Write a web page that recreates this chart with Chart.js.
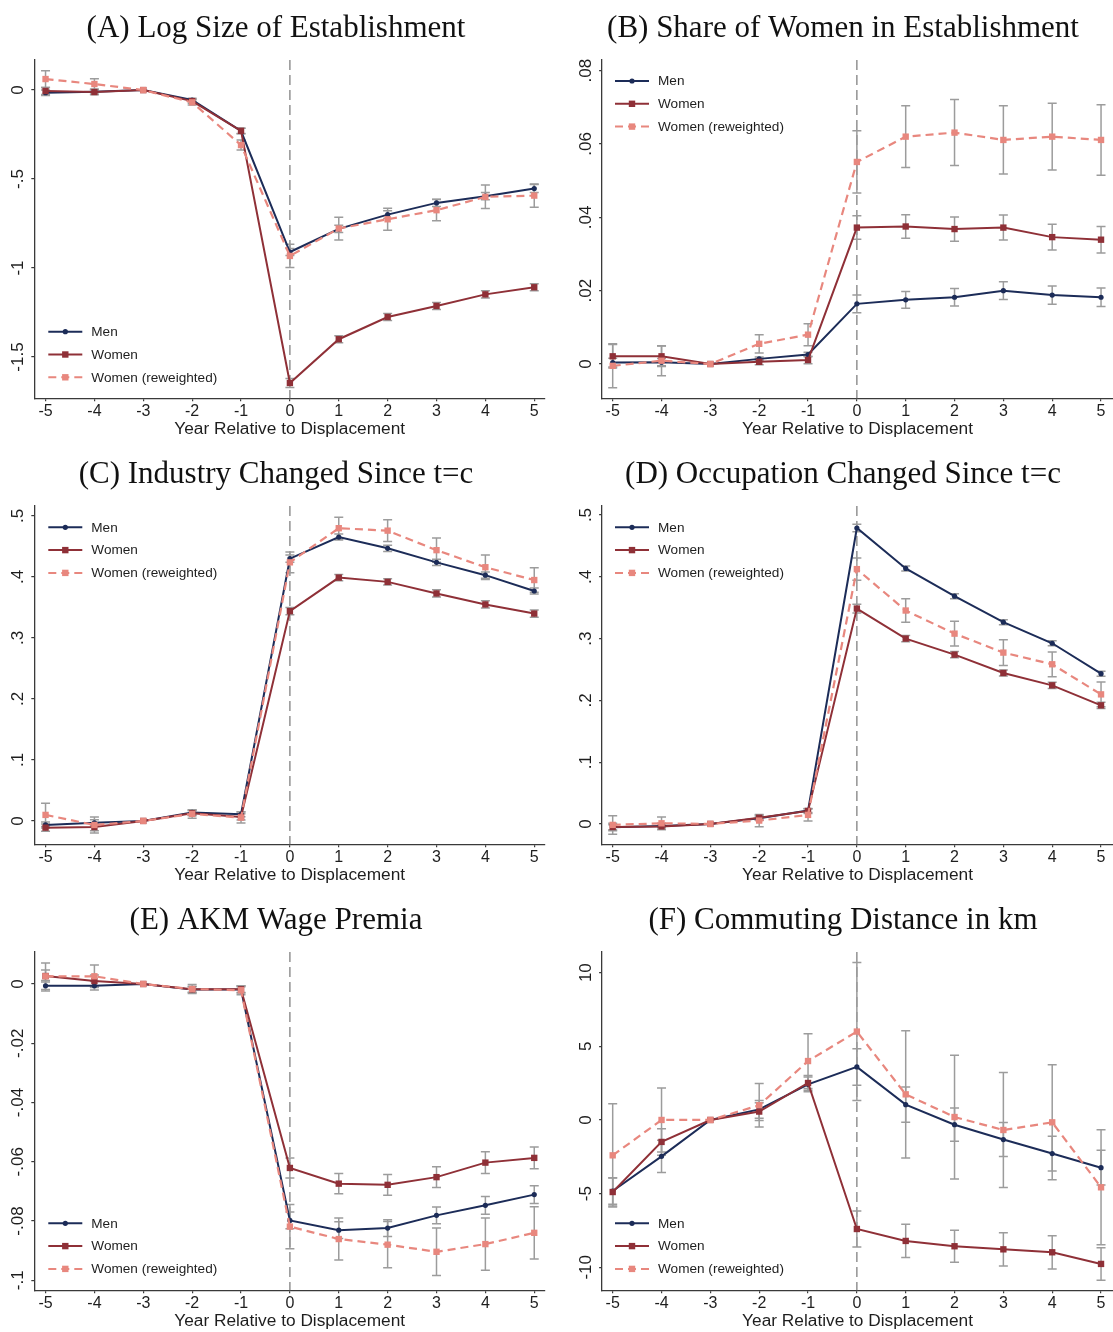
<!DOCTYPE html>
<html>
<head>
<meta charset="utf-8">
<script src="https://cdn.jsdelivr.net/npm/chart.js@4.4.1/dist/chart.umd.min.js"></script>
<style>
  html, body { margin: 0; padding: 0; background: #fff; }
  #wrap { position: relative; width: 1113px; height: 1332px; overflow: hidden; }
  canvas { position: absolute; }
</style>
</head>
<body>
<div id="wrap">
  <canvas id="pA" width="556" height="446" style="left:0px;top:0px"></canvas>
  <canvas id="pB" width="557" height="446" style="left:556px;top:0px"></canvas>
  <canvas id="pC" width="556" height="446" style="left:0px;top:446px"></canvas>
  <canvas id="pD" width="557" height="446" style="left:556px;top:446px"></canvas>
  <canvas id="pE" width="556" height="440" style="left:0px;top:892px"></canvas>
  <canvas id="pF" width="557" height="440" style="left:556px;top:892px"></canvas>
</div>
<script>
// x axis: years relative to displacement
const years = [-5, -4, -3, -2, -1, 0, 1, 2, 3, 4, 5];
const seriesNames = ['Men', 'Women', 'Women (reweighted)'];
const xTitle = 'Year Relative to Displacement';

// (A) Log Size of Establishment
const menA   = [-0.015, -0.010, 0, -0.056, -0.230, -0.910, -0.780, -0.700, -0.634, -0.596, -0.553];
const womenA = [-0.005, -0.011, 0, -0.062, -0.229, -1.646, -1.400, -1.275, -1.213, -1.148, -1.108];
const rwA    = [0.062, 0.034, 0, -0.069, -0.309, -0.932, -0.778, -0.726, -0.675, -0.600, -0.593];
const ciMenA   = [0.015, 0.012, 0, 0.010, 0.015, 0.020, 0.020, 0.022, 0.020, 0.020, 0.022];
const ciWomenA = [0.020, 0.015, 0, 0.012, 0.015, 0.025, 0.020, 0.020, 0.020, 0.020, 0.020];
const ciRwA    = [0.047, 0.030, 0, 0.015, 0.028, 0.065, 0.064, 0.062, 0.060, 0.066, 0.065];
const yTicksA = [0, -0.5, -1, -1.5];
const yLabelsA = ['0', '-.5', '-1', '-1.5'];

// (B) Share of Women in Establishment
const menB   = [0.0004, 0.0005, 0, 0.0014, 0.0026, 0.0164, 0.0175, 0.0182, 0.0200, 0.0188, 0.0182];
const womenB = [0.0021, 0.0021, 0, 0.0006, 0.0011, 0.0372, 0.0375, 0.0368, 0.0372, 0.0346, 0.0339];
const rwB    = [-0.0005, 0.0009, 0, 0.0055, 0.0080, 0.0551, 0.0620, 0.0631, 0.0611, 0.0620, 0.0611];
const ciMenB   = [0.0012, 0.0010, 0, 0.0005, 0.0006, 0.0024, 0.0023, 0.0024, 0.0024, 0.0025, 0.0025];
const ciWomenB = [0.0032, 0.0028, 0, 0.0008, 0.0010, 0.0032, 0.0032, 0.0033, 0.0034, 0.0035, 0.0036];
const ciRwB    = [0.0060, 0.0041, 0, 0.0025, 0.0030, 0.0085, 0.0084, 0.0090, 0.0093, 0.0091, 0.0096];
const yTicksB = [0, 0.02, 0.04, 0.06, 0.08];
const yLabelsB = ['0', '.02', '.04', '.06', '.08'];

// (C) Industry Changed Since t=c
const menC   = [-0.0066, -0.003, 0, 0.014, 0.011, 0.430, 0.4655, 0.447, 0.424, 0.403, 0.377];
const womenC = [-0.011, -0.010, 0, 0.0126, 0.0066, 0.344, 0.399, 0.392, 0.373, 0.355, 0.340];
const rwC    = [0.0099, -0.0066, 0, 0.0115, 0.0055, 0.424, 0.480, 0.476, 0.444, 0.416, 0.395];
const ciMenC   = [0.005, 0.005, 0, 0.004, 0.004, 0.006, 0.005, 0.005, 0.005, 0.005, 0.005];
const ciWomenC = [0.006, 0.006, 0, 0.004, 0.005, 0.006, 0.005, 0.005, 0.006, 0.006, 0.006];
const ciRwC    = [0.019, 0.013, 0, 0.007, 0.009, 0.017, 0.018, 0.018, 0.020, 0.020, 0.020];
const yTicksC = [0, 0.1, 0.2, 0.3, 0.4, 0.5];
const yLabelsC = ['0', '.1', '.2', '.3', '.4', '.5'];

// (D) Occupation Changed Since t=c
const menD   = [-0.0054, -0.0032, 0, 0.0092, 0.0216, 0.479, 0.4135, 0.3686, 0.3265, 0.2924, 0.2432];
const womenD = [-0.005, -0.004, 0, 0.010, 0.021, 0.3486, 0.300, 0.274, 0.2443, 0.2243, 0.1919];
const rwD    = [-0.0016, 0.001, 0, 0.0054, 0.0146, 0.4124, 0.3454, 0.308, 0.2773, 0.2584, 0.2097];
const ciMenD   = [0.004, 0.003, 0, 0.003, 0.003, 0.006, 0.004, 0.004, 0.004, 0.004, 0.004];
const ciWomenD = [0.006, 0.005, 0, 0.004, 0.004, 0.007, 0.005, 0.005, 0.005, 0.005, 0.005];
const ciRwD    = [0.015, 0.010, 0, 0.010, 0.010, 0.018, 0.019, 0.020, 0.021, 0.020, 0.020];
const yTicksD = [0, 0.1, 0.2, 0.3, 0.4, 0.5];
const yLabelsD = ['0', '.1', '.2', '.3', '.4', '.5'];

// (E) AKM Wage Premia
const menE   = [-0.0006, -0.0006, 0, -0.0019, -0.0019, -0.0798, -0.0831, -0.0824, -0.0781, -0.0747, -0.0711];
const womenE = [0.0027, 0.0010, 0, -0.0018, -0.0018, -0.0621, -0.0674, -0.0678, -0.0652, -0.0603, -0.0587];
const rwE    = [0.0026, 0.0026, 0, -0.0017, -0.0021, -0.0819, -0.0861, -0.0880, -0.0904, -0.0878, -0.0840];
const ciMenE   = [0.0018, 0.0014, 0, 0.0010, 0.0010, 0.0028, 0.0028, 0.0028, 0.0028, 0.0030, 0.0030];
const ciWomenE = [0.0020, 0.0020, 0, 0.0010, 0.0012, 0.0034, 0.0034, 0.0035, 0.0035, 0.0037, 0.0037];
const ciRwE    = [0.0045, 0.0038, 0, 0.0015, 0.0015, 0.0075, 0.0071, 0.0078, 0.0080, 0.0088, 0.0088];
const yTicksE = [0, -0.02, -0.04, -0.06, -0.08, -0.1];
const yLabelsE = ['0', '-.02', '-.04', '-.06', '-.08', '-.1'];

// (F) Commuting Distance in km
const menF   = [-4.82, -2.47, 0, 0.72, 2.42, 3.60, 1.04, -0.32, -1.33, -2.28, -3.24];
const womenF = [-4.89, -1.49, 0, 0.57, 2.51, -7.40, -8.21, -8.57, -8.78, -8.98, -9.77];
const rwF    = [-2.40, 0.00, 0, 1.00, 4.00, 6.00, 1.74, 0.20, -0.68, -0.16, -4.57];
const ciMenF   = [0.90, 1.10, 0, 0.60, 0.50, 1.24, 1.20, 1.13, 1.15, 1.18, 1.18];
const ciWomenF = [0.95, 0.90, 0, 0.60, 0.50, 1.22, 1.13, 1.08, 1.13, 1.13, 1.10];
const ciRwF    = [3.50, 2.17, 0, 1.47, 1.86, 4.68, 4.32, 4.20, 3.90, 3.90, 3.90];
const yTicksF = [-10, -5, 0, 5, 10];
const yLabelsF = ['-10', '-5', '0', '5', '10'];

// 样式
const NAVY = '#1c2c58';
const MAROON = '#8f3037';
const SALMON = '#e8877e';
const GREY_CI = '#9c9c9c';
const AXIS = '#3a3a3a';
const TXT = '#1e1e1e';
const SANS = '"Liberation Sans", Arial, sans-serif';

// 左右两列的布局
const colLeft  = { padL: 7,  padR: 11, yAxisW: 27.3, xMin: -5.23,  xMax: 5.22,  legX: 48.3 };
const colRight = { padL: 17, padR: 0,  yAxisW: 29.1, xMin: -5.217, xMax: 5.245, legX: 59 };

// 画零线、误差线、旋转的y轴标签和图例
const panelDeco = {
  id: 'panelDeco',
  beforeDatasetsDraw(chart, args, o) {
    const ctx = chart.ctx, a = chart.chartArea;
    const xs = chart.scales.x, ys = chart.scales.y;
    ctx.save();
    // dashed line at t = 0
    const x0 = xs.getPixelForValue(0);
    ctx.strokeStyle = '#8a8a8a';
    ctx.lineWidth = 1.4;
    ctx.setLineDash([10, 5]);
    ctx.beginPath();
    ctx.moveTo(x0, a.top);
    ctx.lineTo(x0, a.bottom);
    ctx.stroke();
    ctx.setLineDash([]);
    // confidence intervals
    ctx.strokeStyle = GREY_CI;
    ctx.lineWidth = 1.5;
    chart.data.datasets.forEach(ds => {
      ds.ci.forEach((h, i) => {
        if (!h) return;
        const px = xs.getPixelForValue(years[i]);
        const yHi = ys.getPixelForValue(ds.data[i].y + h);
        const yLo = ys.getPixelForValue(ds.data[i].y - h);
        ctx.beginPath();
        ctx.moveTo(px, yHi); ctx.lineTo(px, yLo);
        ctx.moveTo(px - 4.5, yHi); ctx.lineTo(px + 4.5, yHi);
        ctx.moveTo(px - 4.5, yLo); ctx.lineTo(px + 4.5, yLo);
        ctx.stroke();
      });
    });
    ctx.restore();
  },
  afterDraw(chart, args, o) {
    const ctx = chart.ctx, a = chart.chartArea, ys = chart.scales.y;
    ctx.save();
    // y tick labels, rotated like Stata
    ctx.fillStyle = TXT;
    ctx.font = '17px ' + SANS;
    ctx.textAlign = 'center';
    ctx.textBaseline = 'middle';
    o.yTicks.forEach((v, i) => {
      const py = ys.getPixelForValue(v);
      ctx.save();
      ctx.translate(a.left - 16, py);
      ctx.rotate(-Math.PI / 2);
      ctx.fillText(o.yLabels[i], 0, 0);
      ctx.restore();
    });
    // legend
    chart.data.datasets.forEach((ds, i) => {
      const y = o.legY + i * 22.8;
      const x = o.legX;
      ctx.strokeStyle = ds.borderColor;
      ctx.lineWidth = 2;
      ctx.setLineDash(ds.borderDash || []);
      ctx.beginPath();
      ctx.moveTo(x, y); ctx.lineTo(x + 34, y);
      ctx.stroke();
      ctx.setLineDash([]);
      ctx.fillStyle = ds.pointBackgroundColor;
      if (ds.pointStyle === 'circle') {
        ctx.beginPath(); ctx.arc(x + 17, y, 2.6, 0, Math.PI * 2); ctx.fill();
      } else {
        ctx.fillRect(x + 17 - 3.2, y - 3.2, 6.4, 6.4);
      }
      ctx.fillStyle = TXT;
      ctx.font = '13.6px ' + SANS;
      ctx.textAlign = 'left';
      ctx.textBaseline = 'middle';
      ctx.fillText(ds.label, x + 43, y + 0.5);
    });
    ctx.restore();
  }
};

function series(vals, ci, i) {
  const colors = [NAVY, MAROON, SALMON];
  return {
    label: seriesNames[i],
    data: vals.map((v, k) => ({ x: years[k], y: v })),
    ci: ci,
    borderColor: colors[i],
    backgroundColor: colors[i],
    pointBackgroundColor: colors[i],
    pointBorderColor: colors[i],
    borderWidth: i === 2 ? 2.2 : 2,
    borderDash: i === 2 ? [8, 5] : [],
    pointStyle: i === 0 ? 'circle' : 'rect',
    pointRadius: i === 0 ? 2.6 : 4.5,
    pointBorderWidth: 0,
    order: 3 - i,
    tension: 0,
    fill: false,
    clip: false
  };
}

function makePanel(id, title, col, canvasH, legY, yMin, yMax, yTicks, yLabels, m, w, r, cm, cw, cr) {
  const xAxisH = canvasH - 398.3;
  new Chart(document.getElementById(id), {
    type: 'line',
    data: { datasets: [series(m, cm, 0), series(w, cw, 1), series(r, cr, 2)] },
    options: {
      responsive: false,
      animation: false,
      events: [],
      layout: { autoPadding: false, padding: { left: col.padL, right: col.padR, top: 0, bottom: 0 } },
      plugins: {
        legend: { display: false },
        tooltip: { enabled: false },
        title: {
          display: true,
          text: title,
          color: '#111',
          font: { family: '"Liberation Serif", "Times New Roman", serif', size: 31, weight: 'normal' },
          padding: { top: 10.6, bottom: 12.2 }
        },
        panelDeco: { yTicks: yTicks, yLabels: yLabels, legX: col.legX, legY: legY }
      },
      scales: {
        x: {
          type: 'linear',
          min: col.xMin,
          max: col.xMax,
          afterBuildTicks: s => { s.ticks = years.map(v => ({ value: v })); },
          afterFit: s => { s.height = xAxisH; s.paddingLeft = 0; s.paddingRight = 0; },
          grid: { drawOnChartArea: false, drawTicks: true, tickLength: 3, color: AXIS, lineWidth: 1.2 },
          border: { display: true, color: AXIS, width: 1.3 },
          ticks: {
            color: TXT,
            font: { family: SANS, size: 16 },
            padding: 0.5,
            maxRotation: 0,
            autoSkip: false,
            callback: v => String(v)
          },
          title: {
            display: true,
            text: xTitle,
            color: TXT,
            font: { family: SANS, size: 17.3 },
            padding: { top: 0, bottom: canvasH - 439.4 }
          }
        },
        y: {
          type: 'linear',
          min: yMin,
          max: yMax,
          afterBuildTicks: s => { s.ticks = yTicks.map(v => ({ value: v })); },
          afterFit: s => { s.width = col.yAxisW; s.paddingTop = 0; s.paddingBottom = 0; },
          grid: { drawOnChartArea: false, drawTicks: true, tickLength: 3, color: AXIS, lineWidth: 1.2 },
          border: { display: true, color: AXIS, width: 1.3 },
          ticks: { display: false }
        }
      }
    },
    plugins: [panelDeco]
  });
}

makePanel('pA', '(A) Log Size of Establishment', colLeft, 446, 331.7, -1.732, 0.169,
  yTicksA, yLabelsA, menA, womenA, rwA, ciMenA, ciWomenA, ciRwA);
makePanel('pB', '(B) Share of Women in Establishment', colRight, 446, 81, -0.00935, 0.0829,
  yTicksB, yLabelsB, menB, womenB, rwB, ciMenB, ciWomenB, ciRwB);
makePanel('pC', '(C) Industry Changed Since t=c', colLeft, 446, 81.3, -0.0383, 0.5164,
  yTicksC, yLabelsC, menC, womenC, rwC, ciMenC, ciWomenC, ciRwC);
makePanel('pD', '(D) Occupation Changed Since t=c', colRight, 446, 81.3, -0.033, 0.5146,
  yTicksD, yLabelsD, menD, womenD, rwD, ciMenD, ciWomenD, ciRwD);
makePanel('pE', '(E) AKM Wage Premia', colLeft, 440, 331.3, -0.1034, 0.0108,
  yTicksE, yLabelsE, menE, womenE, rwE, ciMenE, ciWomenE, ciRwE);
makePanel('pF', '(F) Commuting Distance in km', colRight, 440, 331.3, -11.56, 11.40,
  yTicksF, yLabelsF, menF, womenF, rwF, ciMenF, ciWomenF, ciRwF);
</script>
</body>
</html>
